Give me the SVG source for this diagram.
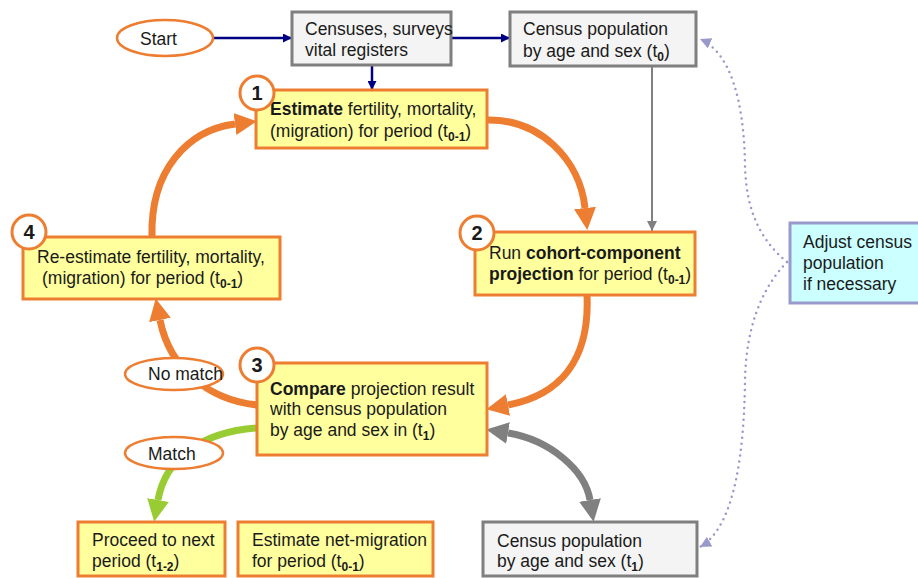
<svg xmlns="http://www.w3.org/2000/svg" width="918" height="578" viewBox="0 0 918 578">
<style>
text{font-family:"Liberation Sans",Arial,sans-serif;font-size:17.5px;fill:#1a1a1a}
.b{font-weight:bold}
.sub{font-size:12px;font-weight:bold}
.num{font-size:20px;font-weight:bold;text-anchor:middle}
.ybox{fill:#ffff9e;stroke:#ed7d31;stroke-width:3}
.gbox{fill:#f4f4f4;stroke:#7f7f7f;stroke-width:3}
.circ{fill:#fff;stroke:#ed7d31;stroke-width:3}
.ell{fill:#fff;stroke:#ed7d31;stroke-width:2.5}
.orange{fill:none;stroke:#ed7d31;stroke-width:7;marker-end:url(#hO)}
.navy{fill:none;stroke:#000080;stroke-width:2.5;marker-end:url(#hN)}
.dots{fill:none;stroke:#9999cc;stroke-width:2.5;stroke-dasharray:0 6;stroke-linecap:round;marker-end:url(#hL)}
</style>
<defs>
<marker id="hO" viewBox="0 0 10 10" refX="0" refY="5" markerUnits="userSpaceOnUse" markerWidth="22" markerHeight="22" orient="auto"><path d="M0,0L10,5L0,10z" fill="#ed7d31"/></marker>
<marker id="hG" viewBox="0 0 10 10" refX="0" refY="5" markerUnits="userSpaceOnUse" markerWidth="22" markerHeight="22" orient="auto"><path d="M0,0L10,5L0,10z" fill="#99cc33"/></marker>
<marker id="hY" viewBox="0 0 10 10" refX="0" refY="5" markerUnits="userSpaceOnUse" markerWidth="22" markerHeight="22" orient="auto-start-reverse"><path d="M0,0L10,5L0,10z" fill="#808080"/></marker>
<marker id="hN" viewBox="0 0 10 10" refX="10" refY="5" markerUnits="userSpaceOnUse" markerWidth="9" markerHeight="9" orient="auto"><path d="M0,0L10,5L0,10z" fill="#000080"/></marker>
<marker id="hS" viewBox="0 0 10 10" refX="10" refY="5" markerUnits="userSpaceOnUse" markerWidth="10" markerHeight="10" orient="auto"><path d="M0,0L10,5L0,10z" fill="#808080"/></marker>
<marker id="hL" viewBox="0 0 10 10" refX="10" refY="5" markerUnits="userSpaceOnUse" markerWidth="11" markerHeight="11" orient="auto"><path d="M0,0L10,5L0,10z" fill="#9999cc"/></marker>
</defs>
<rect width="918" height="578" fill="#fff"/>
<g id="connectors">
<path class="navy" d="M213,38H292"/>
<path class="navy" d="M451,38H510"/>
<path class="navy" d="M372,65V90"/>
<path d="M652,66V231" fill="none" stroke="#808080" stroke-width="2" marker-end="url(#hS)"/>
<path class="orange" d="M485,120C540,118 580,160 585,208"/>
<path class="orange" d="M587,295C590,360 560,395 508,405"/>
<path class="orange" d="M257,405C210,400 170,370 160,320"/>
<path class="orange" d="M152,237C150,170 188,130 235,124"/>
<path d="M257,428C200,432 165,460 158,500" fill="none" stroke="#99cc33" stroke-width="7" marker-end="url(#hG)"/>
<path d="M508,433C550,440 585,470 590,500" fill="none" stroke="#808080" stroke-width="7" marker-start="url(#hY)" marker-end="url(#hY)"/>
<path class="dots" d="M787,262C760,240 746,210 745,165C744,100 730,52 700,39"/>
<path class="dots" d="M787,262C760,290 746,330 745,380C744,470 730,530 700,547"/>
</g>
<g id="start"><ellipse class="ell" cx="165" cy="38" rx="48" ry="18"/><text x="140" y="45">Start</text></g>
<g id="censuses"><rect class="gbox" x="292" y="12" width="159" height="53"/><text x="305" y="35">Censuses, surveys</text><text x="305" y="56">vital registers</text></g>
<g id="census-t0"><rect class="gbox" x="510" y="12" width="186" height="54"/><text x="523" y="35">Census population</text><text x="523" y="57">by age and sex (t<tspan class="sub" dy="4">0</tspan><tspan dy="-4">)</tspan></text></g>
<g id="step1"><rect class="ybox" x="256" y="90" width="231" height="58"/><text x="270" y="115"><tspan class="b">Estimate</tspan> fertility, mortality,</text><text x="270" y="137">(migration) for period (t<tspan class="sub" dy="4">0-1</tspan><tspan dy="-4">)</tspan></text><circle class="circ" cx="257" cy="93" r="17"/><text class="num" x="257" y="100">1</text></g>
<g id="step2"><rect class="ybox" x="475" y="232" width="220" height="63"/><text x="489" y="259">Run <tspan class="b">cohort-component</tspan></text><text x="489" y="280"><tspan class="b">projection</tspan> for period (t<tspan class="sub" dy="4">0-1</tspan><tspan dy="-4">)</tspan></text><circle class="circ" cx="477" cy="233" r="17"/><text class="num" x="477" y="240">2</text></g>
<g id="step3"><rect class="ybox" x="257" y="363" width="230" height="92"/><text x="270" y="395"><tspan class="b">Compare</tspan> projection result</text><text x="270" y="415">with census population</text><text x="270" y="436">by age and sex in (t<tspan class="sub" dy="4">1</tspan><tspan dy="-4">)</tspan></text><circle class="circ" cx="257" cy="365" r="17"/><text class="num" x="257" y="372">3</text></g>
<g id="step4"><rect class="ybox" x="23" y="237" width="257" height="62"/><text x="37" y="263">Re-estimate fertility, mortality,</text><text x="42" y="284">(migration) for period (t<tspan class="sub" dy="4">0-1</tspan><tspan dy="-4">)</tspan></text><circle class="circ" cx="29" cy="232" r="17"/><text class="num" x="29" y="239">4</text></g>
<g id="nomatch"><ellipse class="ell" cx="174" cy="374" rx="49" ry="16"/><text x="148" y="380">No match</text></g>
<g id="match"><ellipse class="ell" cx="174" cy="453" rx="49" ry="16"/><text x="148" y="460">Match</text></g>
<g id="proceed"><rect class="ybox" x="78" y="522" width="147" height="54"/><text x="92" y="546">Proceed to next</text><text x="92" y="567">period (t<tspan class="sub" dy="4">1-2</tspan><tspan dy="-4">)</tspan></text></g>
<g id="netmig"><rect class="ybox" x="238" y="522" width="195" height="54"/><text x="252" y="546">Estimate net-migration</text><text x="252" y="567">for period (t<tspan class="sub" dy="4">0-1</tspan><tspan dy="-4">)</tspan></text></g>
<g id="census-t1"><rect class="gbox" x="483" y="522" width="214" height="54"/><text x="497" y="547">Census population</text><text x="497" y="567">by age and sex (t<tspan class="sub" dy="4">1</tspan><tspan dy="-4">)</tspan></text></g>
<g id="adjust"><rect x="790" y="223" width="140" height="80" fill="#ccffff" stroke="#9999cc" stroke-width="3"/><text x="803" y="248">Adjust census</text><text x="803" y="269">population</text><text x="803" y="290">if necessary</text></g>
</svg>
